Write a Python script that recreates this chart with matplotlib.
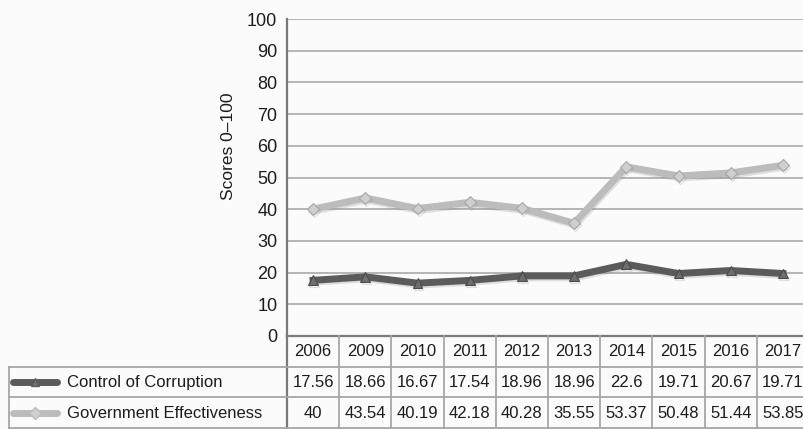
import matplotlib.pyplot as plt
import matplotlib.patheffects as pe
import numpy as np

plt.rcParams['font.family'] = ['Liberation Sans', 'DejaVu Sans']

years = ['2006', '2009', '2010', '2011', '2012', '2013', '2014', '2015', '2016', '2017']
corruption = [17.56, 18.66, 16.67, 17.54, 18.96, 18.96, 22.6, 19.71, 20.67, 19.71]
effectiveness = [40, 43.54, 40.19, 42.18, 40.28, 35.55, 53.37, 50.48, 51.44, 53.85]
series_names = ['Control of Corruption', 'Government Effectiveness']

W, H = 804, 429
bg = '#fbfbfb'
grid_col = '#a9a9a9'
text_col = '#1c1c1c'
dark = '#5b5b5b'
light = '#bcbcbc'
fs = 12

fig = plt.figure(figsize=(W / 100, H / 100), dpi=100, facecolor=bg)

# plot area in pixels
left, right, top, bottom = 287, 809, 19, 336
colw = (right - left) / len(years)
ax = fig.add_axes([left / W, (H - bottom) / H, (right - left) / W, (bottom - top) / H])
ax.set_facecolor(bg)
x = np.arange(len(years))
ax.set_xlim(-0.5, len(years) - 0.5)
ax.set_ylim(0, 100)
ax.set_yticks(np.arange(0, 101, 10))
ax.set_xticks([])
ax.tick_params(axis='y', length=0, pad=7, labelsize=13, labelcolor=text_col)
ax.yaxis.grid(True, color=grid_col, linewidth=1.2)
ax.set_axisbelow(True)
for s in ['top', 'right']:
    ax.spines[s].set_visible(False)
ax.spines['left'].set_color('#7a7a7a')
ax.spines['left'].set_linewidth(1.6)
ax.spines['bottom'].set_color('#7a7a7a')
ax.spines['bottom'].set_linewidth(1.6)
ax.set_ylabel('Scores 0–100', fontsize=12.5, color=text_col)
ax.yaxis.set_label_coords(-0.097, 0.6)

shadow = [pe.SimpleLineShadow(offset=(0.8, -1.4), shadow_color='#888888', alpha=0.25), pe.Normal()]
ax.plot(x, effectiveness, color=light, lw=5, marker='D', ms=6, mfc='#cfcfcf',
        mec='#a8a8a8', mew=0.8, path_effects=shadow, zorder=3)
ax.plot(x, corruption, color=dark, lw=5, marker='^', ms=7, mfc='#6e6e6e',
        mec='#4a4a4a', mew=0.8, path_effects=shadow, zorder=3)

# data table below the axis
tab_left = 8
tab = fig.add_axes([tab_left / W, 0, (right - tab_left) / W, (H - bottom) / H])
tab.set_facecolor('none')
tab.axis('off')
x0 = -0.5 - (left - tab_left) / colw
tab.set_xlim(x0, len(years) - 0.5)
row_h = 30.7
tab.set_ylim((H - bottom) / row_h, 0)
line_kw = dict(color='#a6a6a6', lw=1.3, clip_on=False)

tab.plot([-0.5, -0.5], [0, 3.2], color='#7a7a7a', lw=1.6, clip_on=False)
for i in range(1, len(years) + 1):
    tab.plot([i - 0.5, i - 0.5], [0, 3.2], **line_kw)
for r in [1, 2, 3]:
    tab.plot([x0 + 0.02, len(years) - 0.5], [r, r], **line_kw)
tab.plot([x0 + 0.02, x0 + 0.02], [1, 3.2], **line_kw)

for i, yr in enumerate(years):
    tab.text(i, 0.52, yr, ha='center', va='center', fontsize=fs, color=text_col)
    tab.text(i, 1.52, f'{corruption[i]:g}', ha='center', va='center', fontsize=fs, color=text_col)
    tab.text(i, 2.52, f'{effectiveness[i]:g}', ha='center', va='center', fontsize=fs, color=text_col)

# legend keys in the first column
key_x0 = x0 + (13 - tab_left) / colw
key_x1 = x0 + (57 - tab_left) / colw
for r, (name, col, mk, mfc) in enumerate([(series_names[0], dark, '^', '#6e6e6e'),
                                          (series_names[1], light, 'D', '#cfcfcf')]):
    yy = 1.5 + r
    tab.plot([key_x0, key_x1], [yy, yy], color=col, lw=5, solid_capstyle='round', clip_on=False)
    tab.plot([(key_x0 + key_x1) / 2], [yy], marker=mk, ms=6, color=mfc, mec=col, clip_on=False)
    tab.text(x0 + (67 - tab_left) / colw, yy + 0.02, name, ha='left', va='center',
             fontsize=fs, color=text_col)

fig.savefig('out.png', dpi=100, facecolor=bg)
